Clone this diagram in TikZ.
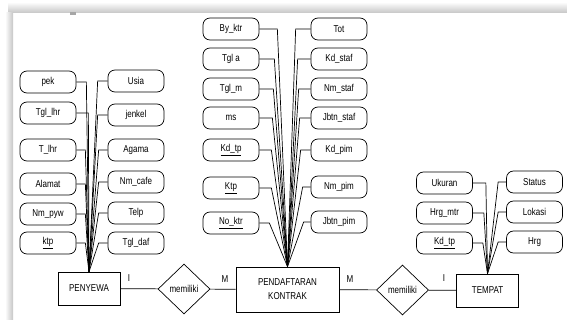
\documentclass[tikz,border=0pt]{standalone}
\usepackage{fontspec}
\setmainfont{Liberation Sans}[FakeStretch=0.8]
\usetikzlibrary{shapes.geometric}

\begin{document}
\begin{tikzpicture}[x=1pt,y=-1pt,line width=0.7pt,
    font=\fontsize{10}{14}\selectfont,
    attr node/.style={draw,rounded corners=7pt,minimum width=56pt,minimum height=22pt,inner sep=1pt},
    entity node/.style={draw,minimum width=62pt,minimum height=33pt,inner sep=1pt,align=center},
    rel node/.style={draw,diamond,aspect=1.04,minimum width=52pt,minimum height=50pt,inner sep=0pt}]

    \useasboundingbox (0,0) rectangle (567,320);
    \shade[top color=white,bottom color=gray!45] (8,2) rectangle (567,13);
    \shade[left color=white,right color=gray!45] (5,13) rectangle (13,320);
    \fill[gray!70] (70,12.5) rectangle (76,15.5);

    % entities and relations
    \node[entity node] (penyewa) at (89,288.5) {PENYEWA};
    \node[entity node,minimum width=103pt,minimum height=45pt] (daftar) at (287.5,289.5) {PENDAFTARAN\\KONTRAK};
    \node[entity node] (tempat) at (487.5,290.5) {TEMPAT};
    \node[rel node] (rel1) at (184,289) {memiliki};
    \node[rel node] (rel2) at (402.5,290) {memiliki};

    \node (i1) at (129,278) {I};
    \node (m1) at (225,279) {M};
    \node (m2) at (350,279) {M};
    \node (i2) at (444,278) {I};

    \draw (penyewa) -- (rel1);
    \draw (rel1) -- (daftar);
    \draw (daftar) -- (rel2);
    \draw (rel2) -- (tempat);

    % PENYEWA
    \node[attr node] (pek) at (48,82) {pek};
    \node[attr node] (tgllhr) at (48,113) {Tgl\_lhr};
    \node[attr node] (tlhr) at (48,150) {T\_lhr};
    \node[attr node] (alamat) at (48,184) {Alamat};
    \node[attr node] (nmpyw) at (48,214) {Nm\_pyw};
    \node[attr node] (ktp) at (48,243) {\underline{ktp}};
    \node[attr node] (usia) at (136,81) {Usia};
    \node[attr node] (jenkel) at (136,115) {jenkel};
    \node[attr node] (agama) at (136,150) {Agama};
    \node[attr node] (nmcafe) at (136,182) {Nm\_cafe};
    \node[attr node] (telp) at (136,213) {Telp};
    \node[attr node] (tgldaf) at (136,243) {Tgl\_daf};

    \draw (pek.east) -- ++(10,0) -- (penyewa.north);
    \draw (tgllhr.east) -- ++(12,0) -- (penyewa.north);
    \draw (tlhr.east) -- ++(9,0) -- (penyewa.north);
    \draw (alamat.east) -- ++(9,0) -- (penyewa.north);
    \draw (nmpyw.east) -- ++(9,0) -- (penyewa.north);
    \draw (ktp.east) -- ++(9,0) -- (penyewa.north);
    \draw (usia.west) -- ++(-10,0) -- (penyewa.north);
    \draw (jenkel.west) -- ++(-10,0) -- (penyewa.north);
    \draw (agama.west) -- ++(-9,0) -- (penyewa.north);
    \draw (nmcafe.west) -- ++(-9,0) -- (penyewa.north);
    \draw (telp.west) -- ++(-9,0) -- (penyewa.north);
    \draw (tgldaf.west) -- ++(-9,0) -- (penyewa.north);

    % PENDAFTARAN KONTRAK
    \node[attr node] (byktr) at (231,29) {By\_ktr};
    \node[attr node] (tgla) at (231,59) {Tgl a};
    \node[attr node] (tglm) at (231,89) {Tgl\_m};
    \node[attr node] (ms) at (231,118) {ms};
    \node[attr node] (kdtp) at (231,150) {\underline{Kd\_tp}};
    \node[attr node] (ktpk) at (231,188) {\underline{Ktp}};
    \node[attr node] (noktr) at (231,223) {\underline{No\_ktr}};
    \node[attr node] (tot) at (339,29) {Tot};
    \node[attr node] (kdstaf) at (339,59) {Kd\_staf};
    \node[attr node] (nmstaf) at (339,89) {Nm\_staf};
    \node[attr node] (jbtnstaf) at (339,118) {Jbtn\_staf};
    \node[attr node] (kdpim) at (339,150) {Kd\_pim};
    \node[attr node] (nmpim) at (339,187) {Nm\_pim};
    \node[attr node] (jbtnpim) at (339,222) {Jbtn\_pim};

    \draw (byktr.east) -- ++(18,0) -- (daftar.north);
    \draw (tgla.east) -- ++(15,0) -- (daftar.north);
    \draw (tglm.east) -- ++(14,0) -- (daftar.north);
    \draw (ms.east) -- ++(13,0) -- (daftar.north);
    \draw (kdtp.east) -- ++(12,0) -- (daftar.north);
    \draw (ktpk.east) -- ++(12,0) -- (daftar.north);
    \draw (noktr.east) -- ++(10,0) -- (daftar.north);
    \draw (tot.west) -- ++(-15,0) -- (daftar.north);
    \draw (kdstaf.west) -- ++(-13,0) -- (daftar.north);
    \draw (nmstaf.west) -- ++(-12,0) -- (daftar.north);
    \draw (jbtnstaf.west) -- ++(-11,0) -- (daftar.north);
    \draw (kdpim.west) -- ++(-10,0) -- (daftar.north);
    \draw (nmpim.west) -- ++(-8,0) -- (daftar.north);
    \draw (jbtnpim.west) -- ++(-7,0) -- (daftar.north);

    % TEMPAT
    \node[attr node] (ukuran) at (444.5,183) {Ukuran};
    \node[attr node] (hrgmtr) at (444.5,213) {Hrg\_mtr};
    \node[attr node] (kdtpt) at (444.5,243) {\underline{Kd\_tp}};
    \node[attr node] (status) at (534.5,182) {Status};
    \node[attr node] (lokasi) at (534.5,212) {Lokasi};
    \node[attr node] (hrg) at (534.5,242) {Hrg};

    \draw (ukuran.east) -- ++(13,0) -- (tempat.north);
    \draw (hrgmtr.east) -- ++(11,0) -- (tempat.north);
    \draw (kdtpt.east) -- ++(10,0) -- (tempat.north);
    \draw (status.west) -- ++(-8,0) -- (tempat.north);
    \draw (lokasi.west) -- ++(-8,0) -- (tempat.north);
    \draw (hrg.west) -- ++(-8,0) -- (tempat.north);

\end{tikzpicture}
\end{document}
